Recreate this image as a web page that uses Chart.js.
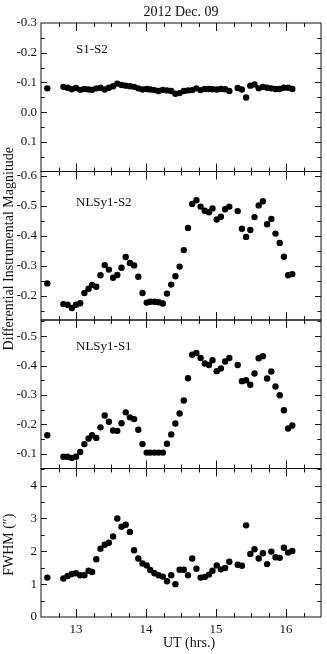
<!DOCTYPE html>
<html>
<head>
<meta charset="utf-8">
<script src="https://cdn.jsdelivr.net/npm/chart.js@4.4.1/dist/chart.umd.min.js"></script>
<style>
  html, body { margin: 0; padding: 0; background: #fff; }
  canvas { display: block; }
</style>
</head>
<body>
<canvas id="chart" width="327" height="654"></canvas>
<script>
// ===== DATA =====
const utHours = [12.59,
  12.82, 12.88, 12.94, 13.00, 13.06, 13.12, 13.18, 13.23, 13.29, 13.35,
  13.41, 13.47, 13.53, 13.59, 13.65, 13.71, 13.77, 13.83, 13.89, 13.95,
  14.01, 14.06, 14.12, 14.18, 14.24, 14.30, 14.36, 14.42, 14.48, 14.54,
  14.60, 14.66, 14.72, 14.78, 14.84, 14.90, 14.95, 15.01, 15.07, 15.13, 15.19,
  15.31, 15.37, 15.43, 15.49, 15.55, 15.61, 15.67, 15.73, 15.79, 15.85, 15.91, 15.97, 16.03, 16.09];

const s1s2 = [-0.080,
  -0.085, -0.082, -0.077, -0.081, -0.075, -0.078, -0.076, -0.075, -0.080, -0.082,
  -0.076, -0.082, -0.087, -0.096, -0.091, -0.089, -0.087, -0.085, -0.080, -0.076,
  -0.078, -0.076, -0.074, -0.071, -0.075, -0.073, -0.071, -0.062, -0.064, -0.071,
  -0.073, -0.074, -0.080, -0.074, -0.078, -0.078, -0.077, -0.076, -0.078, -0.077, -0.071,
  -0.081, -0.076, -0.049, -0.089, -0.093, -0.080, -0.085, -0.082, -0.080, -0.078, -0.078, -0.082, -0.082, -0.078];

const nlsy1S2 = [-0.242,
  -0.173, -0.171, -0.160, -0.171, -0.176, -0.210, -0.224, -0.237, -0.231, -0.269,
  -0.303, -0.288, -0.261, -0.270, -0.294, -0.330, -0.310, -0.302, -0.264, -0.210,
  -0.178, -0.181, -0.181, -0.179, -0.175, -0.208, -0.238, -0.266, -0.298, -0.353,
  -0.427, -0.507, -0.519, -0.498, -0.484, -0.479, -0.492, -0.455, -0.464, -0.489, -0.498,
  -0.483, -0.424, -0.397, -0.420, -0.463, -0.502, -0.516, -0.439, -0.457, -0.408, -0.377, -0.331, -0.269, -0.273];

const nlsy1S1 = [-0.163,
  -0.090, -0.090, -0.086, -0.090, -0.106, -0.133, -0.152, -0.163, -0.154, -0.190,
  -0.230, -0.209, -0.179, -0.178, -0.204, -0.241, -0.224, -0.218, -0.182, -0.133,
  -0.104, -0.104, -0.104, -0.104, -0.104, -0.134, -0.166, -0.203, -0.237, -0.281,
  -0.357, -0.437, -0.443, -0.426, -0.407, -0.402, -0.418, -0.381, -0.390, -0.414, -0.426,
  -0.402, -0.347, -0.350, -0.335, -0.373, -0.425, -0.432, -0.356, -0.380, -0.329, -0.299, -0.248, -0.186, -0.196];

const fwhm = [1.20,
  1.17, 1.25, 1.31, 1.33, 1.27, 1.27, 1.41, 1.37, 1.76, 2.08,
  2.20, 2.26, 2.45, 3.00, 2.75, 2.81, 2.59, 2.03, 1.78, 1.63,
  1.57, 1.43, 1.33, 1.27, 1.23, 1.09, 1.27, 1.00, 1.44, 1.44,
  1.27, 1.78, 1.47, 1.20, 1.22, 1.29, 1.41, 1.57, 1.45, 1.49, 1.68,
  1.59, 1.56, 2.79, 1.92, 2.06, 1.78, 1.94, 1.61, 1.99, 1.82, 1.80, 2.11, 1.96, 2.01];

const xTicks = [13, 14, 15, 16];
const p1Ticks = [-0.3, -0.2, -0.1, 0.0, 0.1];
const p2Ticks = [-0.6, -0.5, -0.4, -0.3, -0.2];
const p3Ticks = [-0.5, -0.4, -0.3, -0.2, -0.1];
const p4Ticks = [0, 1, 2, 3, 4];

const panelNames = ["S1-S2", "NLSy1-S2", "NLSy1-S1"];

// ===== PANELS (top to bottom) =====
const FONT = '"Liberation Serif", "Times New Roman", serif';
const INK = "#111";

const panels = [
  { id: "y1", data: s1s2,    ticks: p1Ticks, min: -0.3,   max: 0.2,   step: 0.1, rev: true,  digits: 1, label: panelNames[0], labelY: -0.21 },
  { id: "y2", data: nlsy1S2, ticks: p2Ticks, min: -0.615, max: -0.12, step: 0.1, rev: true,  digits: 1, label: panelNames[1], labelY: -0.513 },
  { id: "y3", data: nlsy1S1, ticks: p3Ticks, min: -0.555, max: -0.05, step: 0.1, rev: true,  digits: 1, label: panelNames[2], labelY: -0.465 },
  { id: "y4", data: fwhm,    ticks: p4Ticks, min: 0,      max: 4.52,  step: 1,   rev: false, digits: 0 }
];

function pts(vals){
  return vals.map((v, i) => ({ x: utHours[i], y: v }));
}

// ===== SCALES =====
const scales = {
  x: {
    type: "linear",
    min: 12.5,
    max: 16.5,
    afterBuildTicks: s => { s.ticks = xTicks.map(v => ({ value: v })); },
    afterFit: s => { s.height = 37; },
    grid: { display: false, drawTicks: false },
    border: { display: false },
    ticks: { font: { family: FONT, size: 13 }, color: INK, padding: 5, maxRotation: 0 }
  }
};

// stacked y scales: the last one defined sits on top, so add bottom panel first
panels.slice().reverse().forEach(p => {
  scales[p.id] = {
    type: "linear",
    position: "left",
    stack: "panels",
    stackWeight: 1,
    min: p.min,
    max: p.max,
    reverse: p.rev,
    afterBuildTicks: s => { s.ticks = p.ticks.map(v => ({ value: v })); },
    afterFit: s => { s.width = 41; },
    grid: { display: false, drawTicks: false },
    border: { display: false },
    ticks: {
      font: { family: FONT, size: 13 },
      color: INK,
      padding: 4,
      callback: v => (Math.abs(v) < 1e-9 ? 0 : v).toFixed(p.digits)
    }
  };
});

// ===== FRAMES, INWARD TICKS, TEXT =====
const framePlugin = {
  id: "frames",
  afterDraw(chart){
    const ctx = chart.ctx;
    const xs = chart.scales.x;
    const area = chart.chartArea;
    const l = area.left, r = area.right;

    ctx.save();
    ctx.strokeStyle = INK;
    ctx.lineWidth = 1;

    panels.forEach(p => {
      const ys = chart.scales[p.id];
      const top = ys.top, bot = ys.bottom;
      ctx.strokeRect(l, top, r - l, bot - top);

      ctx.beginPath();
      // x ticks on top and bottom of every panel
      for (let k = 1; k < 16; k++){
        const v = 12.5 + k * 0.25;
        const major = k % 4 === 2;
        const len = major ? 8 : 4;
        const px = Math.round(xs.getPixelForValue(v)) + 0.5;
        ctx.moveTo(px, top); ctx.lineTo(px, top + len);
        ctx.moveTo(px, bot); ctx.lineTo(px, bot - len);
      }
      // y ticks left and right, major + half-step minor
      const lo = Math.min(p.min, p.max), hi = Math.max(p.min, p.max);
      const marks = [];
      p.ticks.forEach(v => {
        marks.push([v, 6]);
        [v - p.step / 2, v + p.step / 2].forEach(m => marks.push([m, 3.5]));
      });
      marks.forEach(([v, len]) => {
        if (v <= lo + 1e-6 || v >= hi - 1e-6) return;
        const py = Math.round(ys.getPixelForValue(v)) + 0.5;
        ctx.moveTo(l, py); ctx.lineTo(l + len, py);
        ctx.moveTo(r, py); ctx.lineTo(r - len, py);
      });
      ctx.stroke();

      // panel label
      if (p.label){
        ctx.fillStyle = INK;
        ctx.font = "13px " + FONT;
        ctx.textAlign = "left";
        ctx.textBaseline = "middle";
        ctx.fillText(p.label, xs.getPixelForValue(13.0), ys.getPixelForValue(p.labelY));
      }
    });

    // title
    ctx.fillStyle = INK;
    ctx.font = "14px " + FONT;
    ctx.textAlign = "center";
    ctx.textBaseline = "middle";
    ctx.fillText("2012 Dec. 09", (l + r) / 2, 12);

    // x title
    ctx.fillText("UT (hrs.)", 189, 643);

    // y titles
    const magTop = chart.scales.y1.top, magBot = chart.scales.y3.bottom;
    ctx.save();
    ctx.translate(9, (magTop + magBot) / 2 + 3);
    ctx.rotate(-Math.PI / 2);
    ctx.fillText("Differential Instrumental Magnitude", 0, 0);
    ctx.restore();

    const y4 = chart.scales.y4;
    ctx.save();
    ctx.translate(9, (y4.top + y4.bottom) / 2 + 2);
    ctx.rotate(-Math.PI / 2);
    ctx.fillText("FWHM (\u2033)", 0, 0);
    ctx.restore();

    ctx.restore();
  }
};

// ===== CHART =====
const ctx = document.getElementById("chart").getContext("2d");

new Chart(ctx, {
  type: "scatter",
  data: {
    datasets: panels.map(p => ({
      data: pts(p.data),
      yAxisID: p.id,
      xAxisID: "x",
      backgroundColor: "#000",
      borderWidth: 0,
      pointRadius: 3.2,
      pointHoverRadius: 3.2
    }))
  },
  options: {
    responsive: false,
    animation: false,
    devicePixelRatio: 1,
    layout: { padding: { top: 23, right: 6, left: 0, bottom: 0 } },
    plugins: {
      legend: { display: false },
      tooltip: { enabled: false }
    },
    scales: scales
  },
  plugins: [framePlugin]
});
</script>
</body>
</html>
